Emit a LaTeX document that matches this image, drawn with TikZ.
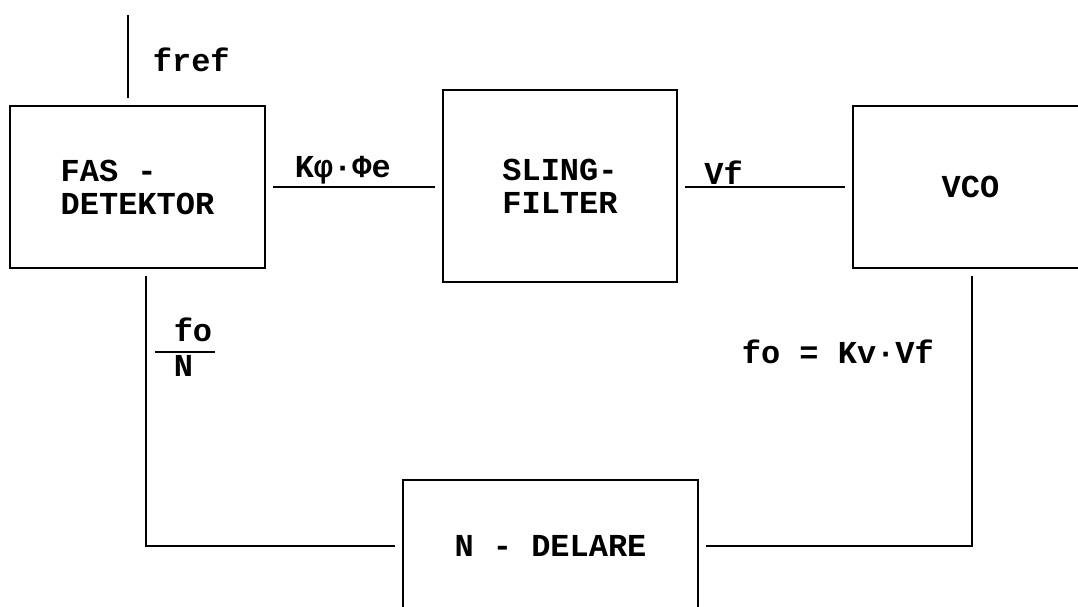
\documentclass[tikz,border=0pt]{standalone}
\usepackage{fontspec}
\setmainfont{Liberation Mono}
\usetikzlibrary{calc}

\tikzset{
  blokk/.style={draw, outer sep=0.17cm, align=left},
  etikett/.style={inner sep=1pt}
}

\begin{document}
\begin{tikzpicture}[x=0.02cm,y=-0.02cm,line width=1.2pt,font=\fontsize{18.2}{18.8}\selectfont\bfseries]
\clip (0,0) rectangle (1078,607);
% blocks
\node[blokk, minimum width=5.1cm, minimum height=3.24cm] (fas) at (137.5,187) {FAS -\\DETEKTOR};
\node[blokk, minimum width=4.68cm, minimum height=3.84cm] (sling) at (560,186) {SLING-\\FILTER};
\node[blokk, minimum width=4.7cm, minimum height=3.24cm] (vco) at (970.5,187) {VCO};
\node[blokk, minimum width=5.9cm, minimum height=2.64cm] (delare) at (550.5,546) {N - DELARE};
% connections
\coordinate (fref) at (128,15);
\coordinate (lv) at (146,0);
\coordinate (hv) at (972,0);
\draw (fref) -- (fref |- fas.north);
\node[right] (freftxt) at (146,60) {fref};
\draw (fas.east) -- (fas.east -| sling.west) node[pos=0.43, above, etikett] {Kφ·Φe};
\draw (sling.east |- vco.west) -- (vco.west) node[pos=0.24, above, etikett] {Vf};
\draw (fas.south -| lv) |- (delare.west);
\draw (vco.south -| hv) |- (delare.east);
\node[inner sep=0pt] (kvot) at (185,352) {\setlength{\arrayrulewidth}{1.2pt}\begin{tabular}{@{\hspace{0.38cm}}l@{\hspace{0.06cm}}}fo\\\hline N\end{tabular}};
\node[right] (vcotxt) at (735,352) {fo = Kv·Vf};
\end{tikzpicture}
\end{document}
